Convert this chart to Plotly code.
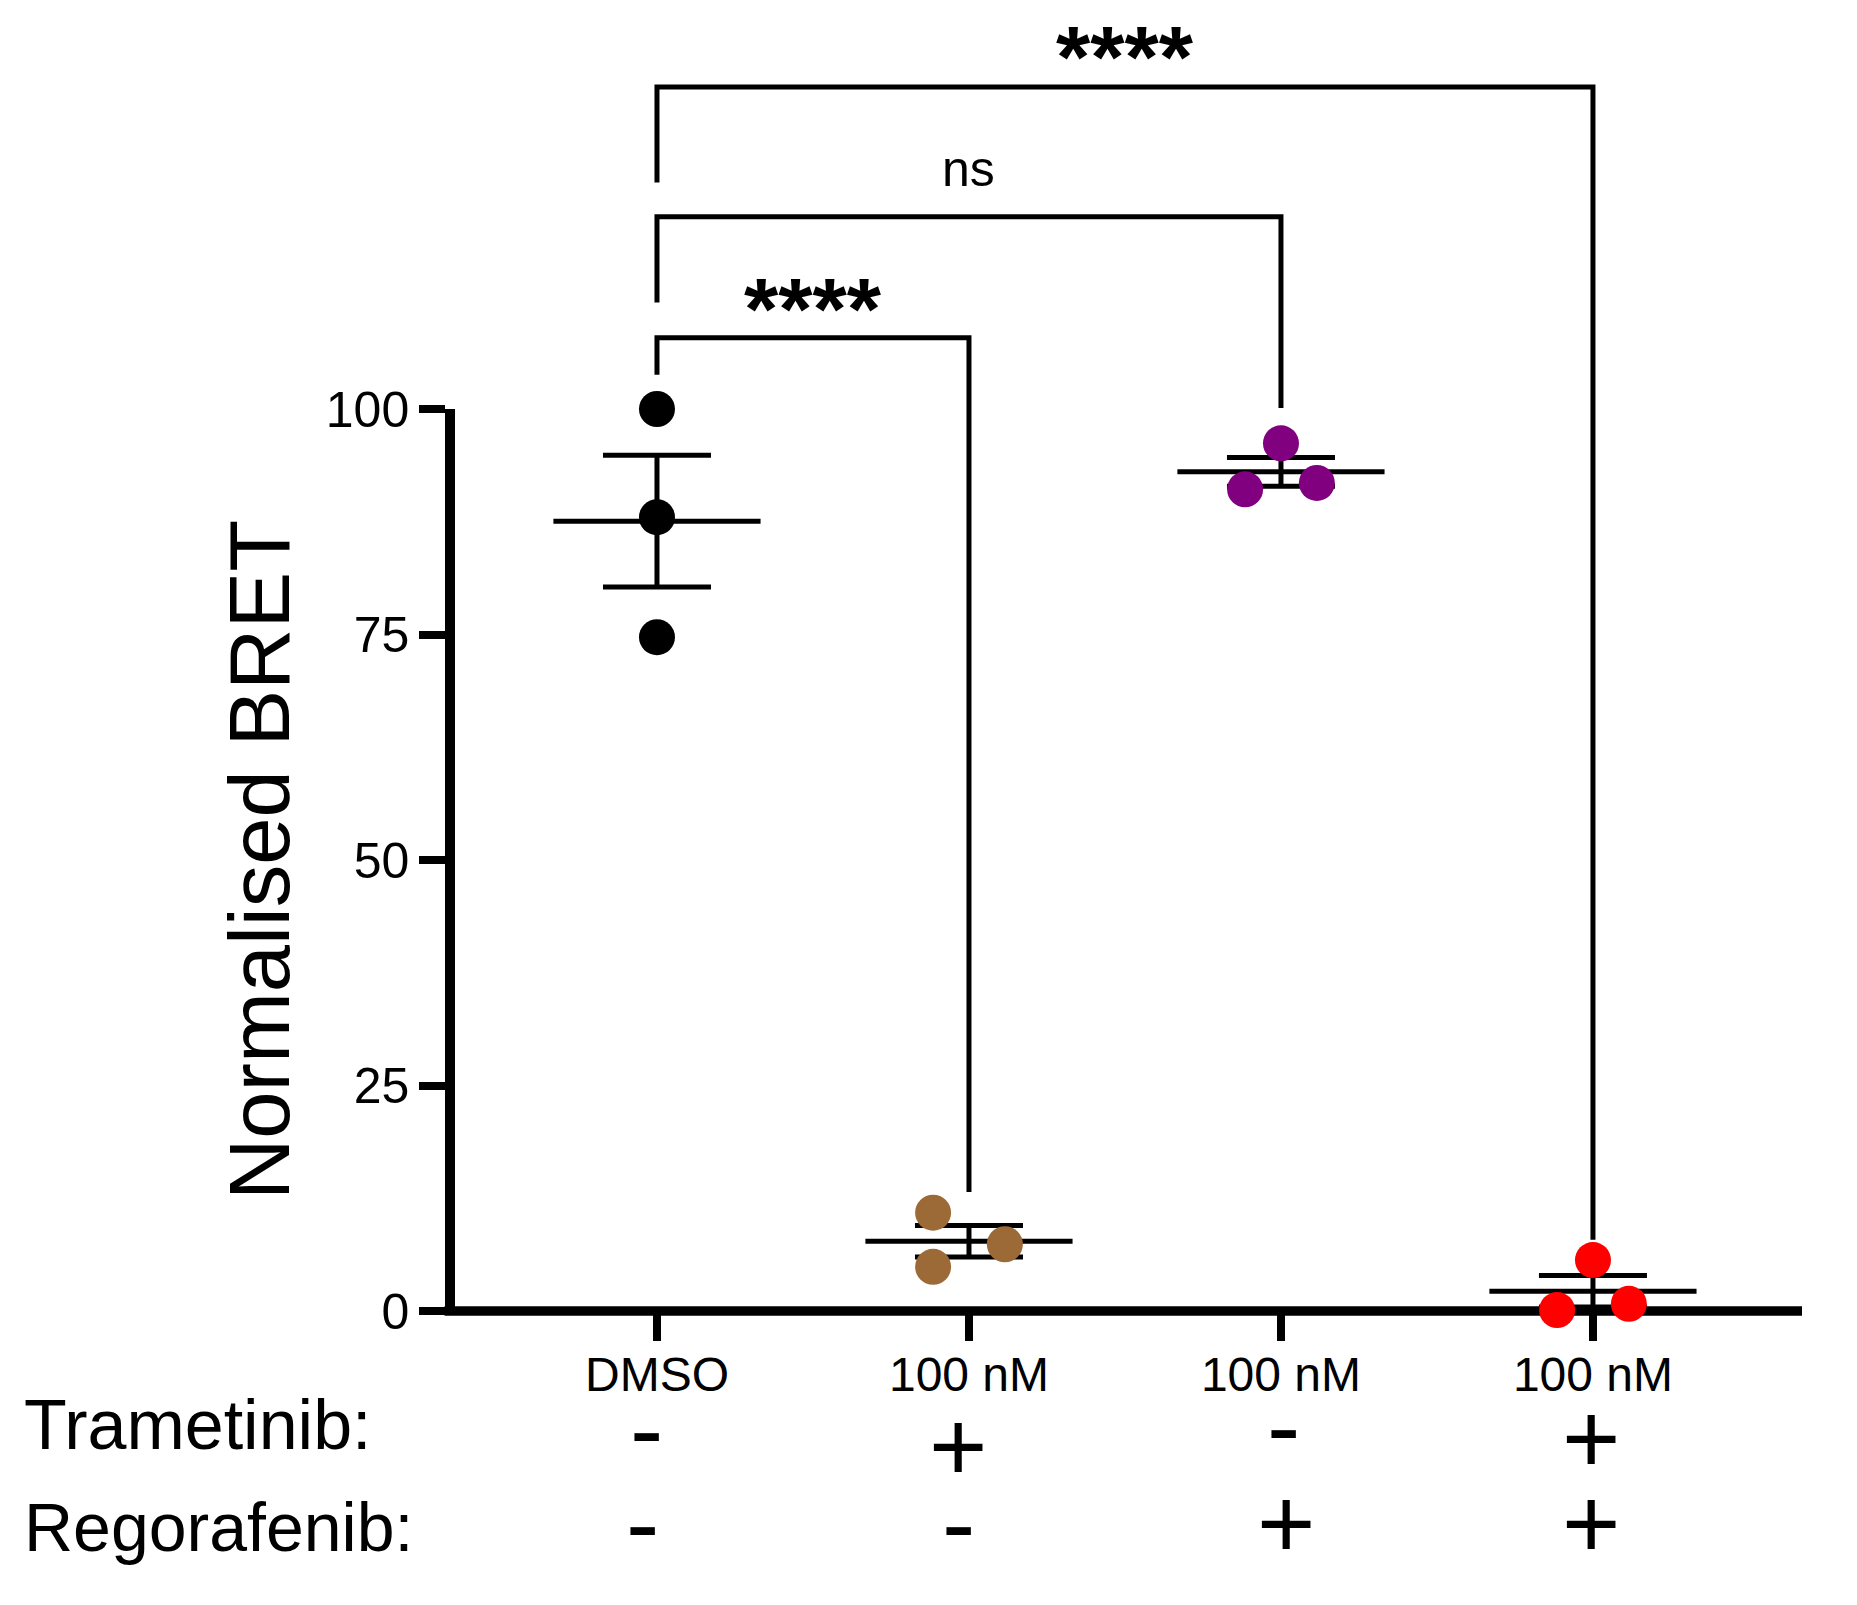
import numpy as np
import plotly.graph_objects as go

# --- data ---
dose_labels = ["DMSO", "100 nM", "100 nM", "100 nM"]
trametinib_signs = ["-", "+", "-", "+"]
regorafenib_signs = ["-", "-", "+", "+"]
dot_colors = ["#000000", "#9c6a37", "#800080", "#ff0000"]

bret_dmso = [100.0, 88.0, 74.7]
bret_trametinib = [10.9, 4.9, 7.4]
bret_regorafenib = [96.2, 91.1, 91.8]
bret_combo = [5.65, 0.1, 0.8]
replicates = [bret_dmso, bret_trametinib, bret_regorafenib, bret_combo]

y_ticks = [0, 25, 50, 75, 100]

# pairwise comparisons against DMSO (group a, group b, label)
comparisons = [(0, 1, "****"), (0, 2, "ns"), (0, 3, "****")]

# --- styling / placement ---
W, H = 1857, 1605
ML, MR, MT, MB = 455, 55, 409, 294
X_RANGE = [-0.6474, 3.670]
Y_MAX = 100
AXIS_W = 9.5

SANS = "Liberation Sans, Arial, Helvetica, sans-serif"

# horizontal scatter of the replicate dots (category widths)
dot_jitter = [[0, 0, 0], [-0.115, -0.115, 0.115], [0, -0.115, 0.115], [0, -0.115, 0.115]]
# bracket height, left leg end, right leg end, label offset (y units)
bracket_geom = [(107.9, 103.8, 13.2, 3.2), (121.3, 111.8, 100.1, 5.3), (135.7, 125.1, 7.9, 3.4)]
# little nudges of the +/- marks (px)
tram_shift = [(-10, 6), (-11, -11), (3, 9), (-2, -3)]
rego_shift = [(-14, 0), (-10, 0), (5, 0), (-2, 0)]


def p(v):
    return v / Y_MAX


fig = go.Figure()

# mean +/- SEM
for i, vals in enumerate(replicates):
    v = np.array(vals)
    mean = v.mean()
    sem = v.std(ddof=1) / np.sqrt(len(v))
    fig.add_trace(go.Scatter(
        x=[i], y=[mean], mode="markers",
        marker=dict(size=1, color="rgba(0,0,0,0)"),
        error_y=dict(type="data", array=[sem], color="black", thickness=5, width=54),
        error_x=dict(type="data", array=[0.332], color="black", thickness=5, width=0),
        showlegend=False, hoverinfo="skip",
    ))

# replicate dots
for i, vals in enumerate(replicates):
    fig.add_trace(go.Scatter(
        x=[i + d for d in dot_jitter[i]], y=vals, mode="markers",
        marker=dict(size=36, color=dot_colors[i], line=dict(width=0)),
        cliponaxis=False, showlegend=False,
    ))

annotations = []
# x axis line drawn as a shape so that y = 0 sits on its centre
shapes = [dict(type="line", xref="paper", yref="paper", x0=-(AXIS_W + 1) / (W - ML - MR), x1=1, y0=0, y1=0,
               line=dict(color="black", width=AXIS_W), layer="below")]

# significance brackets
for (a, b, label), (h, la, rb, dy) in zip(comparisons, bracket_geom):
    path = f"M {a} {p(la)} L {a} {p(h)} L {b} {p(h)} L {b} {p(rb)}"
    shapes.append(dict(type="path", path=path, xref="x", yref="paper",
                       line=dict(color="black", width=5)))
    bold = label != "ns"
    annotations.append(dict(
        x=(a + b) / 2, y=p(h + dy), xref="x", yref="paper",
        text=label, showarrow=False, yanchor="middle",
        font=dict(family=SANS, size=88 if bold else 50,
                  color="black", weight="bold" if bold else "normal"),
    ))

# treatment table under the axis
for i in range(4):
    for signs, row_y, shift in ((trametinib_signs, -13.75, tram_shift), (regorafenib_signs, -23.5, rego_shift)):
        annotations.append(dict(
            x=i, y=p(row_y), xref="x", yref="paper", text=signs[i],
            showarrow=False, yanchor="middle",
            xshift=shift[i][0], yshift=shift[i][1],
            font=dict(family=SANS, size=100, color="black"),
        ))

annotations.append(dict(x=0, y=p(-12.6), xref="paper", yref="paper", text="Trametinib:",
                        showarrow=False, xanchor="left", yanchor="middle", xshift=-(ML - 22),
                        font=dict(family=SANS, size=70, color="black")))
annotations.append(dict(x=0, y=p(-23.9), xref="paper", yref="paper", text="Regorafenib:",
                        showarrow=False, xanchor="left", yanchor="middle", xshift=-(ML - 22),
                        font=dict(family=SANS, size=68, color="black")))

fig.update_layout(
    width=W, height=H,
    margin=dict(l=ML, r=MR, t=MT, b=MB, pad=0),
    plot_bgcolor="white", paper_bgcolor="white",
    font=dict(family=SANS, color="black"),
    shapes=shapes, annotations=annotations,
    xaxis=dict(
        range=X_RANGE, tickvals=[0, 1, 2, 3], ticktext=dose_labels,
        showline=False,
        ticks="outside", ticklen=29, tickwidth=8, tickcolor="black",
        tickfont=dict(family=SANS, size=48, color="black"), ticklabelstandoff=-8,
        showgrid=False, zeroline=False, layer="below traces",
    ),
    yaxis=dict(
        range=[0, Y_MAX], tickvals=y_ticks,
        showline=True, linecolor="black", linewidth=AXIS_W,
        ticks="outside", ticklen=26, tickwidth=8, tickcolor="black",
        tickfont=dict(family=SANS, size=50, color="black"),
        title=dict(text="Normalised BRET", font=dict(family=SANS, size=85, color="black"), standoff=12),
        showgrid=False, zeroline=False, layer="below traces",
    ),
)

fig.write_html("out.html", config={"displayModeBar": False},
               post_script="document.body.style.margin='0';")
